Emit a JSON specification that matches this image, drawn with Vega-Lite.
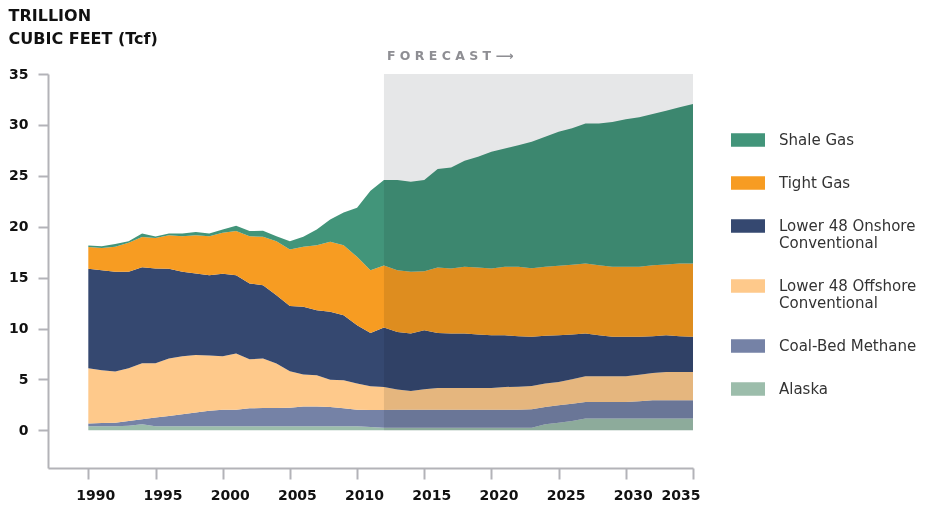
{
  "$schema": "https://vega.github.io/schema/vega-lite/v6.json",
  "width": 645,
  "height": 394,
  "autosize": {"type": "none"},
  "padding": {"left": 48, "top": 74, "right": 248, "bottom": 38},
  "background": "white",
  "config": {
    "view": {"stroke": null},
    "font": "DejaVu Sans",
    "axis": {
      "grid": false,
      "domainColor": "#b3b3b8", "domainWidth": 2,
      "tickColor": "#b3b3b8", "tickWidth": 2,
      "labelFont": "DejaVu Sans", "labelFontSize": 14, "labelFontWeight": "bold",
      "labelColor": "#111111"
    },
    "axisX": {"tickSize": 11, "labelPadding": 9, "labelOffset": 7},
    "axisY": {"tickSize": 10, "labelPadding": 10}
  },
  "title": {
    "text": ["TRILLION", "CUBIC FEET (Tcf)"],
    "anchor": "start",
    "frame": "bounds",
    "font": "DejaVu Sans",
    "fontSize": 16,
    "fontWeight": "bold",
    "color": "#111111",
    "lineHeight": 23,
    "offset": 3
  },
  "datasets": {
    "gas": [
      {"year":1990,"source":"Alaska","tcf":0.40},{"year":1990,"source":"Coal-Bed Methane","tcf":0.26},{"year":1990,"source":"Lower 48 Offshore Conventional","tcf":5.44},{"year":1990,"source":"Lower 48 Onshore Conventional","tcf":9.76},{"year":1990,"source":"Tight Gas","tcf":2.14},{"year":1990,"source":"Shale Gas","tcf":0.16},
      {"year":1991,"source":"Alaska","tcf":0.40},{"year":1991,"source":"Coal-Bed Methane","tcf":0.32},{"year":1991,"source":"Lower 48 Offshore Conventional","tcf":5.18},{"year":1991,"source":"Lower 48 Onshore Conventional","tcf":9.83},{"year":1991,"source":"Tight Gas","tcf":2.17},{"year":1991,"source":"Shale Gas","tcf":0.19},
      {"year":1992,"source":"Alaska","tcf":0.40},{"year":1992,"source":"Coal-Bed Methane","tcf":0.35},{"year":1992,"source":"Lower 48 Offshore Conventional","tcf":5.02},{"year":1992,"source":"Lower 48 Onshore Conventional","tcf":9.80},{"year":1992,"source":"Tight Gas","tcf":2.46},{"year":1992,"source":"Shale Gas","tcf":0.26},
      {"year":1993,"source":"Alaska","tcf":0.45},{"year":1993,"source":"Coal-Bed Methane","tcf":0.47},{"year":1993,"source":"Lower 48 Offshore Conventional","tcf":5.18},{"year":1993,"source":"Lower 48 Onshore Conventional","tcf":9.47},{"year":1993,"source":"Tight Gas","tcf":2.85},{"year":1993,"source":"Shale Gas","tcf":0.15},
      {"year":1994,"source":"Alaska","tcf":0.60},{"year":1994,"source":"Coal-Bed Methane","tcf":0.48},{"year":1994,"source":"Lower 48 Offshore Conventional","tcf":5.52},{"year":1994,"source":"Lower 48 Onshore Conventional","tcf":9.43},{"year":1994,"source":"Tight Gas","tcf":2.97},{"year":1994,"source":"Shale Gas","tcf":0.34},
      {"year":1995,"source":"Alaska","tcf":0.40},{"year":1995,"source":"Coal-Bed Methane","tcf":0.85},{"year":1995,"source":"Lower 48 Offshore Conventional","tcf":5.35},{"year":1995,"source":"Lower 48 Onshore Conventional","tcf":9.30},{"year":1995,"source":"Tight Gas","tcf":3.00},{"year":1995,"source":"Shale Gas","tcf":0.15},
      {"year":1996,"source":"Alaska","tcf":0.40},{"year":1996,"source":"Coal-Bed Methane","tcf":1.01},{"year":1996,"source":"Lower 48 Offshore Conventional","tcf":5.64},{"year":1996,"source":"Lower 48 Onshore Conventional","tcf":8.81},{"year":1996,"source":"Tight Gas","tcf":3.31},{"year":1996,"source":"Shale Gas","tcf":0.17},
      {"year":1997,"source":"Alaska","tcf":0.40},{"year":1997,"source":"Coal-Bed Methane","tcf":1.17},{"year":1997,"source":"Lower 48 Offshore Conventional","tcf":5.71},{"year":1997,"source":"Lower 48 Onshore Conventional","tcf":8.29},{"year":1997,"source":"Tight Gas","tcf":3.50},{"year":1997,"source":"Shale Gas","tcf":0.27},
      {"year":1998,"source":"Alaska","tcf":0.40},{"year":1998,"source":"Coal-Bed Methane","tcf":1.34},{"year":1998,"source":"Lower 48 Offshore Conventional","tcf":5.67},{"year":1998,"source":"Lower 48 Onshore Conventional","tcf":7.99},{"year":1998,"source":"Tight Gas","tcf":3.77},{"year":1998,"source":"Shale Gas","tcf":0.30},
      {"year":1999,"source":"Alaska","tcf":0.40},{"year":1999,"source":"Coal-Bed Methane","tcf":1.53},{"year":1999,"source":"Lower 48 Offshore Conventional","tcf":5.41},{"year":1999,"source":"Lower 48 Onshore Conventional","tcf":7.90},{"year":1999,"source":"Tight Gas","tcf":3.83},{"year":1999,"source":"Shale Gas","tcf":0.27},
      {"year":2000,"source":"Alaska","tcf":0.40},{"year":2000,"source":"Coal-Bed Methane","tcf":1.63},{"year":2000,"source":"Lower 48 Offshore Conventional","tcf":5.25},{"year":2000,"source":"Lower 48 Onshore Conventional","tcf":8.09},{"year":2000,"source":"Tight Gas","tcf":4.03},{"year":2000,"source":"Shale Gas","tcf":0.33},
      {"year":2001,"source":"Alaska","tcf":0.40},{"year":2001,"source":"Coal-Bed Methane","tcf":1.63},{"year":2001,"source":"Lower 48 Offshore Conventional","tcf":5.51},{"year":2001,"source":"Lower 48 Onshore Conventional","tcf":7.70},{"year":2001,"source":"Tight Gas","tcf":4.33},{"year":2001,"source":"Shale Gas","tcf":0.52},
      {"year":2002,"source":"Alaska","tcf":0.40},{"year":2002,"source":"Coal-Bed Methane","tcf":1.76},{"year":2002,"source":"Lower 48 Offshore Conventional","tcf":4.82},{"year":2002,"source":"Lower 48 Onshore Conventional","tcf":7.44},{"year":2002,"source":"Tight Gas","tcf":4.65},{"year":2002,"source":"Shale Gas","tcf":0.50},
      {"year":2003,"source":"Alaska","tcf":0.40},{"year":2003,"source":"Coal-Bed Methane","tcf":1.80},{"year":2003,"source":"Lower 48 Offshore Conventional","tcf":4.85},{"year":2003,"source":"Lower 48 Onshore Conventional","tcf":7.21},{"year":2003,"source":"Tight Gas","tcf":4.75},{"year":2003,"source":"Shale Gas","tcf":0.59},
      {"year":2004,"source":"Alaska","tcf":0.40},{"year":2004,"source":"Coal-Bed Methane","tcf":1.80},{"year":2004,"source":"Lower 48 Offshore Conventional","tcf":4.36},{"year":2004,"source":"Lower 48 Onshore Conventional","tcf":6.72},{"year":2004,"source":"Tight Gas","tcf":5.30},{"year":2004,"source":"Shale Gas","tcf":0.49},
      {"year":2005,"source":"Alaska","tcf":0.40},{"year":2005,"source":"Coal-Bed Methane","tcf":1.83},{"year":2005,"source":"Lower 48 Offshore Conventional","tcf":3.57},{"year":2005,"source":"Lower 48 Onshore Conventional","tcf":6.40},{"year":2005,"source":"Tight Gas","tcf":5.56},{"year":2005,"source":"Shale Gas","tcf":0.82},
      {"year":2006,"source":"Alaska","tcf":0.40},{"year":2006,"source":"Coal-Bed Methane","tcf":1.93},{"year":2006,"source":"Lower 48 Offshore Conventional","tcf":3.15},{"year":2006,"source":"Lower 48 Onshore Conventional","tcf":6.65},{"year":2006,"source":"Tight Gas","tcf":5.90},{"year":2006,"source":"Shale Gas","tcf":0.98},
      {"year":2007,"source":"Alaska","tcf":0.40},{"year":2007,"source":"Coal-Bed Methane","tcf":1.93},{"year":2007,"source":"Lower 48 Offshore Conventional","tcf":3.08},{"year":2007,"source":"Lower 48 Onshore Conventional","tcf":6.39},{"year":2007,"source":"Tight Gas","tcf":6.39},{"year":2007,"source":"Shale Gas","tcf":1.54},
      {"year":2008,"source":"Alaska","tcf":0.40},{"year":2008,"source":"Coal-Bed Methane","tcf":1.90},{"year":2008,"source":"Lower 48 Offshore Conventional","tcf":2.68},{"year":2008,"source":"Lower 48 Onshore Conventional","tcf":6.66},{"year":2008,"source":"Tight Gas","tcf":6.88},{"year":2008,"source":"Shale Gas","tcf":2.19},
      {"year":2009,"source":"Alaska","tcf":0.40},{"year":2009,"source":"Coal-Bed Methane","tcf":1.76},{"year":2009,"source":"Lower 48 Offshore Conventional","tcf":2.76},{"year":2009,"source":"Lower 48 Onshore Conventional","tcf":6.39},{"year":2009,"source":"Tight Gas","tcf":6.88},{"year":2009,"source":"Shale Gas","tcf":3.21},
      {"year":2010,"source":"Alaska","tcf":0.40},{"year":2010,"source":"Coal-Bed Methane","tcf":1.63},{"year":2010,"source":"Lower 48 Offshore Conventional","tcf":2.56},{"year":2010,"source":"Lower 48 Onshore Conventional","tcf":5.74},{"year":2010,"source":"Tight Gas","tcf":6.71},{"year":2010,"source":"Shale Gas","tcf":4.82},
      {"year":2011,"source":"Alaska","tcf":0.33},{"year":2011,"source":"Coal-Bed Methane","tcf":1.67},{"year":2011,"source":"Lower 48 Offshore Conventional","tcf":2.33},{"year":2011,"source":"Lower 48 Onshore Conventional","tcf":5.24},{"year":2011,"source":"Tight Gas","tcf":6.16},{"year":2011,"source":"Shale Gas","tcf":7.80},
      {"year":2012,"source":"Alaska","tcf":0.26},{"year":2012,"source":"Coal-Bed Methane","tcf":1.74},{"year":2012,"source":"Lower 48 Offshore Conventional","tcf":2.26},{"year":2012,"source":"Lower 48 Onshore Conventional","tcf":5.84},{"year":2012,"source":"Tight Gas","tcf":6.10},{"year":2012,"source":"Shale Gas","tcf":8.38},
      {"year":2013,"source":"Alaska","tcf":0.25},{"year":2013,"source":"Coal-Bed Methane","tcf":1.78},{"year":2013,"source":"Lower 48 Offshore Conventional","tcf":1.97},{"year":2013,"source":"Lower 48 Onshore Conventional","tcf":5.66},{"year":2013,"source":"Tight Gas","tcf":6.07},{"year":2013,"source":"Shale Gas","tcf":8.85},
      {"year":2014,"source":"Alaska","tcf":0.25},{"year":2014,"source":"Coal-Bed Methane","tcf":1.78},{"year":2014,"source":"Lower 48 Offshore Conventional","tcf":1.84},{"year":2014,"source":"Lower 48 Onshore Conventional","tcf":5.63},{"year":2014,"source":"Tight Gas","tcf":6.07},{"year":2014,"source":"Shale Gas","tcf":8.85},
      {"year":2015,"source":"Alaska","tcf":0.25},{"year":2015,"source":"Coal-Bed Methane","tcf":1.78},{"year":2015,"source":"Lower 48 Offshore Conventional","tcf":2.00},{"year":2015,"source":"Lower 48 Onshore Conventional","tcf":5.80},{"year":2015,"source":"Tight Gas","tcf":5.80},{"year":2015,"source":"Shale Gas","tcf":8.95},
      {"year":2016,"source":"Alaska","tcf":0.25},{"year":2016,"source":"Coal-Bed Methane","tcf":1.78},{"year":2016,"source":"Lower 48 Offshore Conventional","tcf":2.13},{"year":2016,"source":"Lower 48 Onshore Conventional","tcf":5.41},{"year":2016,"source":"Tight Gas","tcf":6.42},{"year":2016,"source":"Shale Gas","tcf":9.67},
      {"year":2017,"source":"Alaska","tcf":0.25},{"year":2017,"source":"Coal-Bed Methane","tcf":1.78},{"year":2017,"source":"Lower 48 Offshore Conventional","tcf":2.13},{"year":2017,"source":"Lower 48 Onshore Conventional","tcf":5.34},{"year":2017,"source":"Tight Gas","tcf":6.40},{"year":2017,"source":"Shale Gas","tcf":9.92},
      {"year":2018,"source":"Alaska","tcf":0.25},{"year":2018,"source":"Coal-Bed Methane","tcf":1.78},{"year":2018,"source":"Lower 48 Offshore Conventional","tcf":2.13},{"year":2018,"source":"Lower 48 Onshore Conventional","tcf":5.34},{"year":2018,"source":"Tight Gas","tcf":6.56},{"year":2018,"source":"Shale Gas","tcf":10.42},
      {"year":2019,"source":"Alaska","tcf":0.25},{"year":2019,"source":"Coal-Bed Methane","tcf":1.78},{"year":2019,"source":"Lower 48 Offshore Conventional","tcf":2.13},{"year":2019,"source":"Lower 48 Onshore Conventional","tcf":5.25},{"year":2019,"source":"Tight Gas","tcf":6.58},{"year":2019,"source":"Shale Gas","tcf":10.88},
      {"year":2020,"source":"Alaska","tcf":0.25},{"year":2020,"source":"Coal-Bed Methane","tcf":1.78},{"year":2020,"source":"Lower 48 Offshore Conventional","tcf":2.13},{"year":2020,"source":"Lower 48 Onshore Conventional","tcf":5.18},{"year":2020,"source":"Tight Gas","tcf":6.56},{"year":2020,"source":"Shale Gas","tcf":11.46},
      {"year":2021,"source":"Alaska","tcf":0.25},{"year":2021,"source":"Coal-Bed Methane","tcf":1.78},{"year":2021,"source":"Lower 48 Offshore Conventional","tcf":2.23},{"year":2021,"source":"Lower 48 Onshore Conventional","tcf":5.08},{"year":2021,"source":"Tight Gas","tcf":6.72},{"year":2021,"source":"Shale Gas","tcf":11.63},
      {"year":2022,"source":"Alaska","tcf":0.25},{"year":2022,"source":"Coal-Bed Methane","tcf":1.78},{"year":2022,"source":"Lower 48 Offshore Conventional","tcf":2.26},{"year":2022,"source":"Lower 48 Onshore Conventional","tcf":4.95},{"year":2022,"source":"Tight Gas","tcf":6.82},{"year":2022,"source":"Shale Gas","tcf":11.94},
      {"year":2023,"source":"Alaska","tcf":0.26},{"year":2023,"source":"Coal-Bed Methane","tcf":1.82},{"year":2023,"source":"Lower 48 Offshore Conventional","tcf":2.27},{"year":2023,"source":"Lower 48 Onshore Conventional","tcf":4.83},{"year":2023,"source":"Tight Gas","tcf":6.74},{"year":2023,"source":"Shale Gas","tcf":12.43},
      {"year":2024,"source":"Alaska","tcf":0.59},{"year":2024,"source":"Coal-Bed Methane","tcf":1.70},{"year":2024,"source":"Lower 48 Offshore Conventional","tcf":2.30},{"year":2024,"source":"Lower 48 Onshore Conventional","tcf":4.69},{"year":2024,"source":"Tight Gas","tcf":6.78},{"year":2024,"source":"Shale Gas","tcf":12.78},
      {"year":2025,"source":"Alaska","tcf":0.75},{"year":2025,"source":"Coal-Bed Methane","tcf":1.71},{"year":2025,"source":"Lower 48 Offshore Conventional","tcf":2.29},{"year":2025,"source":"Lower 48 Onshore Conventional","tcf":4.59},{"year":2025,"source":"Tight Gas","tcf":6.82},{"year":2025,"source":"Shale Gas","tcf":13.17},
      {"year":2026,"source":"Alaska","tcf":0.92},{"year":2026,"source":"Coal-Bed Methane","tcf":1.70},{"year":2026,"source":"Lower 48 Offshore Conventional","tcf":2.39},{"year":2026,"source":"Lower 48 Onshore Conventional","tcf":4.40},{"year":2026,"source":"Tight Gas","tcf":6.85},{"year":2026,"source":"Shale Gas","tcf":13.40},
      {"year":2027,"source":"Alaska","tcf":1.15},{"year":2027,"source":"Coal-Bed Methane","tcf":1.64},{"year":2027,"source":"Lower 48 Offshore Conventional","tcf":2.52},{"year":2027,"source":"Lower 48 Onshore Conventional","tcf":4.19},{"year":2027,"source":"Tight Gas","tcf":6.89},{"year":2027,"source":"Shale Gas","tcf":13.76},
      {"year":2028,"source":"Alaska","tcf":1.15},{"year":2028,"source":"Coal-Bed Methane","tcf":1.64},{"year":2028,"source":"Lower 48 Offshore Conventional","tcf":2.52},{"year":2028,"source":"Lower 48 Onshore Conventional","tcf":4.03},{"year":2028,"source":"Tight Gas","tcf":6.88},{"year":2028,"source":"Shale Gas","tcf":13.93},
      {"year":2029,"source":"Alaska","tcf":1.15},{"year":2029,"source":"Coal-Bed Methane","tcf":1.64},{"year":2029,"source":"Lower 48 Offshore Conventional","tcf":2.52},{"year":2029,"source":"Lower 48 Onshore Conventional","tcf":3.87},{"year":2029,"source":"Tight Gas","tcf":6.88},{"year":2029,"source":"Shale Gas","tcf":14.22},
      {"year":2030,"source":"Alaska","tcf":1.15},{"year":2030,"source":"Coal-Bed Methane","tcf":1.64},{"year":2030,"source":"Lower 48 Offshore Conventional","tcf":2.52},{"year":2030,"source":"Lower 48 Onshore Conventional","tcf":3.87},{"year":2030,"source":"Tight Gas","tcf":6.88},{"year":2030,"source":"Shale Gas","tcf":14.49},
      {"year":2031,"source":"Alaska","tcf":1.15},{"year":2031,"source":"Coal-Bed Methane","tcf":1.70},{"year":2031,"source":"Lower 48 Offshore Conventional","tcf":2.62},{"year":2031,"source":"Lower 48 Onshore Conventional","tcf":3.71},{"year":2031,"source":"Tight Gas","tcf":6.88},{"year":2031,"source":"Shale Gas","tcf":14.69},
      {"year":2032,"source":"Alaska","tcf":1.15},{"year":2032,"source":"Coal-Bed Methane","tcf":1.80},{"year":2032,"source":"Lower 48 Offshore Conventional","tcf":2.69},{"year":2032,"source":"Lower 48 Onshore Conventional","tcf":3.60},{"year":2032,"source":"Tight Gas","tcf":6.98},{"year":2032,"source":"Shale Gas","tcf":14.85},
      {"year":2033,"source":"Alaska","tcf":1.15},{"year":2033,"source":"Coal-Bed Methane","tcf":1.80},{"year":2033,"source":"Lower 48 Offshore Conventional","tcf":2.79},{"year":2033,"source":"Lower 48 Onshore Conventional","tcf":3.60},{"year":2033,"source":"Tight Gas","tcf":6.95},{"year":2033,"source":"Shale Gas","tcf":15.11},
      {"year":2034,"source":"Alaska","tcf":1.15},{"year":2034,"source":"Coal-Bed Methane","tcf":1.80},{"year":2034,"source":"Lower 48 Offshore Conventional","tcf":2.79},{"year":2034,"source":"Lower 48 Onshore Conventional","tcf":3.50},{"year":2034,"source":"Tight Gas","tcf":7.15},{"year":2034,"source":"Shale Gas","tcf":15.34},
      {"year":2035,"source":"Alaska","tcf":1.15},{"year":2035,"source":"Coal-Bed Methane","tcf":1.80},{"year":2035,"source":"Lower 48 Offshore Conventional","tcf":2.79},{"year":2035,"source":"Lower 48 Onshore Conventional","tcf":3.44},{"year":2035,"source":"Tight Gas","tcf":7.21},{"year":2035,"source":"Shale Gas","tcf":15.66}
    ]
  },
  "layer": [
    {
      "data": {"name": "gas"},
      "transform": [
        {"calculate": "indexof(['Alaska','Coal-Bed Methane','Lower 48 Offshore Conventional','Lower 48 Onshore Conventional','Tight Gas','Shale Gas'], datum.source)", "as": "stackOrder"}
      ],
      "mark": {"type": "area", "interpolate": "linear", "opacity": 1},
      "encoding": {
        "x": {
          "field": "year", "type": "quantitative",
          "scale": {"domain": [1987, 2035], "nice": false, "zero": false},
          "axis": {"title": null, "format": "d", "values": [1990,1995,2000,2005,2010,2015,2020,2025,2030,2035]}
        },
        "y": {
          "field": "tcf", "type": "quantitative", "stack": "zero",
          "scale": {"domain": [-3.7, 35], "nice": false, "zero": false},
          "axis": {"title": null, "values": [0,5,10,15,20,25,30,35]}
        },
        "color": {
          "field": "source", "type": "nominal",
          "scale": {
            "domain": ["Shale Gas","Tight Gas","Lower 48 Onshore Conventional","Lower 48 Offshore Conventional","Coal-Bed Methane","Alaska"],
            "range": ["#42957a","#f79c22","#354870","#fec98b","#7582a6","#9cbdab"]
          },
          "legend": {
            "orient": "none", "legendX": 683, "legendY": 49,
            "title": null,
            "symbolType": "M-1,-0.4H1V0.4H-1Z",
            "symbolSize": 1156, "symbolStrokeWidth": 0, "symbolOpacity": 1,
            "labelFont": "DejaVu Sans", "labelFontSize": 15, "labelColor": "#333333",
            "labelOffset": 14, "rowPadding": 18, "labelLimit": 250,
            "labelExpr": "datum.label == 'Lower 48 Onshore Conventional' ? ['Lower 48 Onshore', 'Conventional'] : datum.label == 'Lower 48 Offshore Conventional' ? ['Lower 48 Offshore', 'Conventional'] : datum.label"
          }
        },
        "order": {"field": "stackOrder", "type": "quantitative", "sort": "ascending"}
      }
    },
    {
      "data": {"values": [{"year": 2012, "yearEnd": 2035, "tcf": 0, "tcfTop": 35}]},
      "mark": {"type": "rect", "color": "#e6e7e8", "blend": "multiply"},
      "encoding": {
        "x": {"field": "year", "type": "quantitative", "scale": {"domain": [1987, 2035], "nice": false, "zero": false},
              "axis": {"title": null, "format": "d", "values": [1990,1995,2000,2005,2010,2015,2020,2025,2030,2035]}},
        "x2": {"field": "yearEnd"},
        "y": {"field": "tcf", "type": "quantitative", "scale": {"domain": [-3.7, 35], "nice": false, "zero": false},
              "axis": {"title": null, "values": [0,5,10,15,20,25,30,35]}},
        "y2": {"field": "tcfTop"}
      }
    },
    {
      "data": {"values": [{"year": 2012, "tcf": 35, "label": "F O R E C A S T  ⟶"}]},
      "mark": {"type": "text", "align": "left", "baseline": "middle", "dx": 3, "dy": -18, "font": "DejaVu Sans", "fontSize": 12.5, "fontWeight": "bold", "color": "#8e8e93"},
      "encoding": {
        "x": {"field": "year", "type": "quantitative", "scale": {"domain": [1987, 2035], "nice": false, "zero": false},
              "axis": {"title": null, "format": "d", "values": [1990,1995,2000,2005,2010,2015,2020,2025,2030,2035]}},
        "y": {"field": "tcf", "type": "quantitative", "scale": {"domain": [-3.7, 35], "nice": false, "zero": false},
              "axis": {"title": null, "values": [0,5,10,15,20,25,30,35]}},
        "text": {"field": "label"}
      }
    }
  ]
}
